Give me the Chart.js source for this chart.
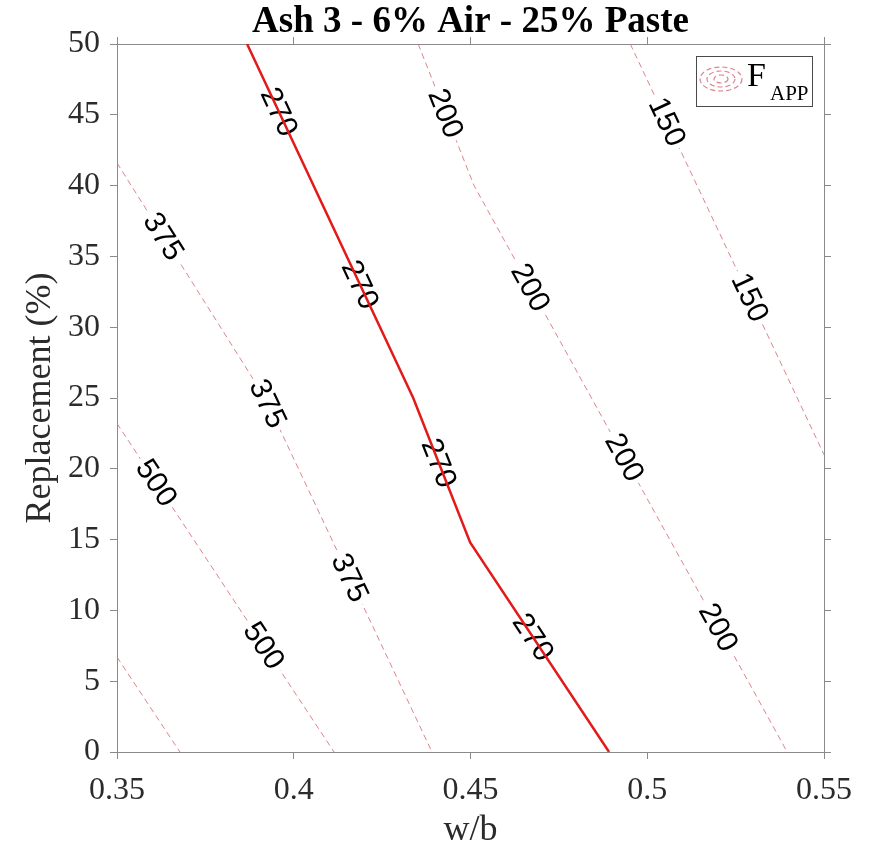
<!DOCTYPE html>
<html>
<head>
<meta charset="utf-8">
<script src="https://cdn.jsdelivr.net/npm/chart.js@4/dist/chart.umd.min.js"></script>
<style>
  html, body { margin: 0; padding: 0; background: #fff; }
  #wrap { width: 875px; height: 846px; }
</style>
</head>
<body>
<div id="wrap"><canvas id="fapp" width="875" height="846"></canvas></div>
<script>
/* ── Ash 3 - 6% Air - 25% Paste : F_APP contours over w/b vs replacement ── */

const xTicks = [0.35, 0.40, 0.45, 0.50, 0.55];
const yTicks = [0, 5, 10, 15, 20, 25, 30, 35, 40, 45, 50];

// 270 contour (solid red)
const f270X      = [0.3868, 0.4338, 0.4499, 0.4892];
const f270Y      = [50, 25, 14.8, 0];
const f270Labels = [45.2, 33.0, 20.4, 8.1];

// dashed F_APP contours
const f150X      = [0.4952, 0.55];
const f150Y      = [50, 21.0];
const f150Labels = [44.5, 32.1];

const f200X      = [0.4352, 0.4510, 0.5396];
const f200Y      = [50, 40, 0];
const f200Labels = [45.1, 32.8, 20.8, 8.8];

const f375X      = [0.35, 0.3919, 0.4391];
const f375Y      = [41.6, 25, 0];
const f375Labels = [36.4, 24.6, 12.3];

const f500X      = [0.35, 0.4114];
const f500Y      = [23.2, 0];
const f500Labels = [19.0, 7.5];

const fCornerX   = [0.35, 0.3678];   // unlabelled contour, bottom-left corner
const fCornerY   = [6.7, 0];

const DASH_CLR = 'rgba(214,110,120,0.85)';
const RED      = '#e21a1a';
const SERIF    = '"Liberation Serif", "Times New Roman", serif';
const SANS     = '"Liberation Sans", Arial, sans-serif';
const AXIS_CLR = '#8a8a8a';
const TXT_CLR  = '#2b2b2b';

const pts = (xs, ys) => xs.map((x, i) => ({ x, y: ys[i] }));

function contour(label, xs, ys, labels, solid) {
  return {
    label,
    data: pts(xs, ys),
    showLine: true,
    pointRadius: 0,
    borderColor: solid ? RED : DASH_CLR,
    borderWidth: solid ? 2.5 : 1,
    borderDash: solid ? [] : [6, 4],
    tension: 0,
    labelYs: labels,
    solid,
  };
}

/* put a label on the polyline at data-y, rotated along the segment */
function _labelAt(chart, ds, yv) {
  const sx = chart.scales.x, sy = chart.scales.y;
  const d = ds.data;
  for (let i = 0; i < d.length - 1; i++) {
    const a = d[i], b = d[i + 1];
    const lo = Math.min(a.y, b.y), hi = Math.max(a.y, b.y);
    if (yv < lo || yv > hi) continue;
    const t = (yv - a.y) / (b.y - a.y);
    const ax = sx.getPixelForValue(a.x), ay = sy.getPixelForValue(a.y);
    const bx = sx.getPixelForValue(b.x), by = sy.getPixelForValue(b.y);
    return { px: ax + t * (bx - ax), py: ay + t * (by - ay), ang: Math.atan2(by - ay, bx - ax) };
  }
  return null;
}

function _drawLabels(chart, solidPass) {
  const ctx = chart.ctx;
  chart.data.datasets.forEach(ds => {
    if (!ds.labelYs || ds.solid !== solidPass) return;
    const txt = ds.label;
    ds.labelYs.forEach(yv => {
      const p = _labelAt(chart, ds, yv);
      if (!p) return;
      ctx.save();
      ctx.translate(p.px, p.py);
      ctx.rotate(p.ang);
      ctx.font = `30px ${SANS}`;
      const w = ctx.measureText(txt).width;
      if (!solidPass) {
        ctx.fillStyle = '#fff';
        ctx.fillRect(-w / 2 - 4, -14, w + 8, 28);
      }
      ctx.fillStyle = '#000';
      ctx.textAlign = 'center';
      ctx.textBaseline = 'middle';
      ctx.fillText(txt, 0, 1);
      ctx.restore();
    });
  });
}

function _drawLegend(chart) {
  const ctx = chart.ctx, a = chart.chartArea;
  const bx = a.right - 128, by = a.top + 12, bw = 116, bh = 50;
  ctx.save();
  ctx.fillStyle = '#fff';
  ctx.fillRect(bx, by, bw, bh);
  ctx.strokeStyle = '#4a4a4a';
  ctx.lineWidth = 1;
  ctx.strokeRect(bx + 0.5, by + 0.5, bw, bh);

  // concentric dashed ellipses icon
  const cx = bx + 25, cy = by + 23;
  ctx.strokeStyle = DASH_CLR;
  ctx.lineWidth = 1.2;
  ctx.setLineDash([5, 3]);
  [[21, 12], [14, 8], [7, 4]].forEach(([rx, ry]) => {
    ctx.beginPath();
    ctx.ellipse(cx, cy, rx, ry, 0, 0, Math.PI * 2);
    ctx.stroke();
  });
  ctx.setLineDash([]);

  ctx.fillStyle = '#000';
  ctx.textAlign = 'left';
  ctx.textBaseline = 'alphabetic';
  ctx.font = `34px ${SERIF}`;
  ctx.fillText('F', bx + 51, by + 30);
  ctx.font = `21px ${SERIF}`;
  ctx.fillText('APP', bx + 74, by + 44);
  ctx.restore();
}

const contourLabels = {
  id: 'contourLabels',
  beforeDatasetsDraw(chart) { _drawLabels(chart, true); },
  afterDatasetsDraw(chart)  { _drawLabels(chart, false); _drawLegend(chart); },
};

const setTicks = vals => scale => { scale.ticks = vals.map(v => ({ value: v })); };
const fmtTick  = v => String(+v.toFixed(2));

new Chart(document.getElementById('fapp'), {
  type: 'scatter',
  data: {
    datasets: [
      contour('270', f270X, f270Y, f270Labels, true),
      contour('150', f150X, f150Y, f150Labels, false),
      contour('200', f200X, f200Y, f200Labels, false),
      contour('375', f375X, f375Y, f375Labels, false),
      contour('500', f500X, f500Y, f500Labels, false),
      contour('', fCornerX, fCornerY, null, false),
    ],
  },
  options: {
    responsive: false,
    animation: false,
    devicePixelRatio: 1,
    layout: { padding: { top: 0, right: 51, bottom: 0, left: 0 } },
    plugins: {
      legend: { display: false },
      tooltip: { enabled: false },
      title: {
        display: true,
        text: 'Ash 3 - 6% Air - 25% Paste',
        fullSize: false,
        color: '#000',
        font: { family: SERIF, size: 37, weight: 'bold', lineHeight: 1 },
        padding: { top: 4, bottom: 3 },
      },
    },
    scales: {
      x: {
        type: 'linear', position: 'bottom', min: 0.35, max: 0.55,
        afterBuildTicks: setTicks(xTicks),
        afterFit: s => { s.height = 94; },
        grid: { drawOnChartArea: false, drawTicks: true, tickLength: 7, color: AXIS_CLR },
        border: { display: true, color: AXIS_CLR },
        ticks: { color: TXT_CLR, padding: 12, font: { family: SERIF, size: 32 }, maxRotation: 0, callback: fmtTick },
        title: { display: true, text: 'w/b', color: TXT_CLR, font: { family: SERIF, size: 36, lineHeight: 0.8 }, padding: { top: 0, bottom: 1 } },
      },
      x2: {
        type: 'linear', position: 'top', min: 0.35, max: 0.55,
        afterBuildTicks: setTicks(xTicks),
        afterFit: s => { s.height = 0; },
        grid: { drawOnChartArea: false, drawTicks: true, tickLength: 7, color: AXIS_CLR },
        border: { display: true, color: AXIS_CLR },
        ticks: { display: false },
      },
      y: {
        type: 'linear', position: 'left', min: 0, max: 50,
        afterBuildTicks: setTicks(yTicks),
        afterFit: s => { s.width = 117; },
        grid: { drawOnChartArea: false, drawTicks: true, tickLength: 7, color: AXIS_CLR },
        border: { display: true, color: AXIS_CLR },
        ticks: { color: TXT_CLR, padding: 10, font: { family: SERIF, size: 32 }, callback: fmtTick },
        title: { display: true, text: 'Replacement (%)', color: TXT_CLR, font: { family: SERIF, size: 36, lineHeight: 1.2 }, padding: { top: 19, bottom: 0 } },
      },
      y2: {
        type: 'linear', position: 'right', min: 0, max: 50,
        afterBuildTicks: setTicks(yTicks),
        afterFit: s => { s.width = 0; },
        grid: { drawOnChartArea: false, drawTicks: true, tickLength: 7, color: AXIS_CLR },
        border: { display: true, color: AXIS_CLR },
        ticks: { display: false },
      },
    },
  },
  plugins: [contourLabels],
});
</script>
</body>
</html>
